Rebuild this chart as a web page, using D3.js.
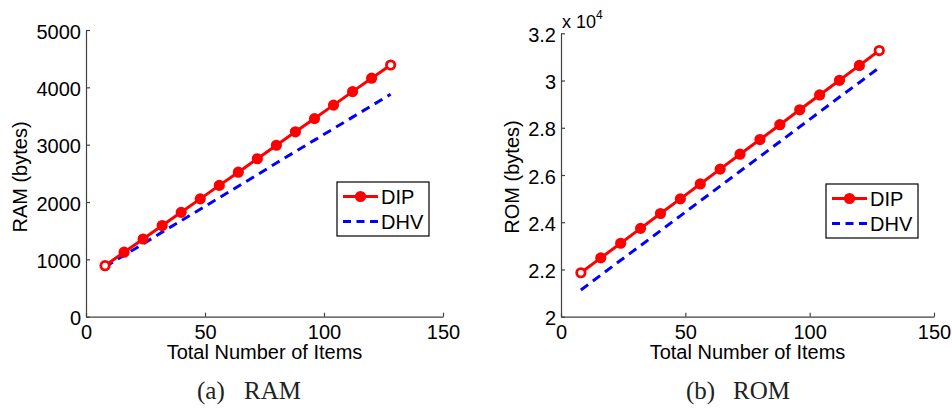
<!DOCTYPE html>
<html>
<head>
<meta charset="utf-8">
<script src="https://cdn.jsdelivr.net/npm/d3@7"></script>
<style>
  html, body { margin: 0; padding: 0; background: #fff; }
  svg { display: block; }
</style>
</head>
<body>
<svg id="chart" width="952" height="414"></svg>
<script>
// ---- data ----
const items = [8, 16, 24, 32, 40, 48, 56, 64, 72, 80, 88, 96, 104, 112, 120, 128];
const ramDIP = [890, 1125, 1355, 1590, 1820, 2055, 2290, 2520, 2755, 2990, 3225, 3455, 3690, 3925, 4160, 4390];
const ramDHV = [870, 1070, 1270, 1475, 1675, 1875, 2075, 2275, 2475, 2680, 2880, 3080, 3280, 3480, 3680, 3880];
const romDIP = [21860, 22490, 23110, 23740, 24370, 24990, 25620, 26250, 26880, 27500, 28130, 28760, 29390, 30010, 30640, 31270];
const romDHV = [21130, 21760, 22390, 23010, 23640, 24270, 24900, 25530, 26160, 26780, 27410, 28040, 28670, 29300, 29920, 30550];
const xTicks = [0, 50, 100, 150];
const ramTicks = [0, 1000, 2000, 3000, 4000, 5000];
const romTicks = [20000, 22000, 24000, 26000, 28000, 30000, 32000];
const romTickLabels = ["2", "2.2", "2.4", "2.6", "2.8", "3", "3.2"];
const seriesNames = ["DIP", "DHV"];
const xLabel = "Total Number of Items";

const svg = d3.select("#chart");
const FONT = "'Liberation Sans', Arial, Helvetica, sans-serif";
const AXIS_COLOR = "#404040";

function panel(cfg) {
  const g = svg.append("g");
  const x = d3.scaleLinear().domain([0, 150]).range([cfg.left, cfg.right]);
  const y = d3.scaleLinear().domain(cfg.yDomain).range([cfg.bottom, cfg.top]);

  // axes
  const xAxis = d3.axisBottom(x).tickValues(xTicks).tickSizeInner(-4).tickSizeOuter(0).tickPadding(8);
  const yAxis = d3.axisLeft(y).tickValues(cfg.yTicks).tickSizeInner(-4).tickSizeOuter(0).tickPadding(5)
    .tickFormat((d, i) => cfg.yLabels[i]);

  const gx = g.append("g").attr("transform", `translate(0,${cfg.bottom})`).call(xAxis);
  const gy = g.append("g").attr("transform", `translate(${cfg.left},0)`).call(yAxis);
  [gx, gy].forEach(a => {
    a.select(".domain").attr("stroke", AXIS_COLOR).attr("stroke-width", 1.2);
    a.selectAll(".tick line").attr("stroke", AXIS_COLOR).attr("stroke-width", 1.2);
    a.selectAll(".tick text").attr("fill", "#000").style("font-family", FONT).style("font-size", "20px");
  });
  gy.selectAll(".tick text").attr("dy", "0.4em");

  // axis labels
  g.append("text")
    .attr("x", (cfg.left + cfg.right) / 2).attr("y", 359)
    .attr("text-anchor", "middle")
    .style("font-family", FONT).style("font-size", "20px")
    .text(xLabel);
  g.append("text")
    .attr("transform", `translate(${cfg.yLabelX},177) rotate(-90)`)
    .attr("text-anchor", "middle")
    .style("font-family", FONT).style("font-size", "20px")
    .text(cfg.yTitle);

  if (cfg.exponent) {
    const t = g.append("text")
      .attr("x", cfg.left + 1).attr("y", 28)
      .style("font-family", FONT).style("font-size", "18px");
    t.append("tspan").text("x 10");
    t.append("tspan").attr("dy", -9).style("font-size", "12px").text("4");
  }

  // lines
  const line = d3.line().x((d, i) => x(items[i])).y(d => y(d));
  g.append("path").datum(cfg.dhv)
    .attr("d", line).attr("fill", "none")
    .attr("stroke", "#0000ff").attr("stroke-width", 3)
    .attr("stroke-dasharray", "9,6");
  g.append("path").datum(cfg.dip)
    .attr("d", line).attr("fill", "none")
    .attr("stroke", "#ff0000").attr("stroke-width", 3);
  const last = cfg.dip.length - 1;
  g.selectAll("circle.m").data(cfg.dip).enter().append("circle")
    .attr("class", "m")
    .attr("cx", (d, i) => x(items[i])).attr("cy", d => y(d))
    .attr("r", 4.2)
    .attr("fill", (d, i) => (i === 0 || i === last) ? "#fff" : "#ff0000")
    .attr("stroke", "#ff0000").attr("stroke-width", 2.8);

  // legend
  const L = cfg.legend;
  g.append("rect").attr("x", L.x).attr("y", L.y).attr("width", 92).attr("height", 54)
    .attr("fill", "#fff").attr("stroke", "#000").attr("stroke-width", 1.2);
  const rows = [L.y + 14.5, L.y + 39.5];
  g.append("line").attr("x1", L.x + 6).attr("x2", L.x + 41).attr("y1", rows[0]).attr("y2", rows[0])
    .attr("stroke", "#ff0000").attr("stroke-width", 3);
  g.append("circle").attr("cx", L.x + 23.5).attr("cy", rows[0]).attr("r", 4.2)
    .attr("fill", "#ff0000").attr("stroke", "#ff0000").attr("stroke-width", 2.8);
  g.append("line").attr("x1", L.x + 6).attr("x2", L.x + 41).attr("y1", rows[1]).attr("y2", rows[1])
    .attr("stroke", "#0000ff").attr("stroke-width", 3).attr("stroke-dasharray", "8,5.5");
  seriesNames.forEach((n, i) => {
    g.append("text").attr("x", L.x + 44).attr("y", rows[i] + 7)
      .style("font-family", FONT).style("font-size", "20px").text(n);
  });

  // caption
  const cap = g.append("text")
    .attr("x", cfg.capX).attr("y", 399)
    .style("font-family", "'Liberation Serif', 'Times New Roman', serif")
    .style("font-size", "25px").attr("fill", "#222");
  cap.append("tspan").text(cfg.capA);
  cap.append("tspan").attr("x", cfg.capX + 47).text(cfg.capB);
}

panel({
  left: 86, right: 443, top: 30, bottom: 316.7,
  yDomain: [0, 5000], yTicks: ramTicks, yLabels: ramTicks.map(String),
  yTitle: "RAM (bytes)", yLabelX: 27,
  dip: ramDIP, dhv: ramDHV,
  legend: { x: 337, y: 182 },
  capX: 197, capA: "(a)", capB: "RAM"
});

panel({
  left: 561, right: 934, top: 33.3, bottom: 316.7,
  yDomain: [20000, 32000], yTicks: romTicks, yLabels: romTickLabels,
  yTitle: "ROM (bytes)", yLabelX: 519, exponent: true,
  dip: romDIP, dhv: romDHV,
  legend: { x: 826, y: 184 },
  capX: 686, capA: "(b)", capB: "ROM"
});
</script>
</body>
</html>
